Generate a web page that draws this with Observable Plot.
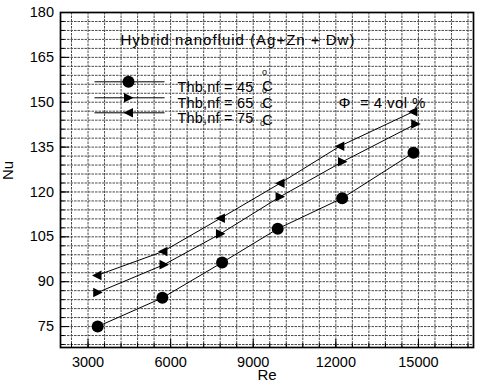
<!DOCTYPE html>
<html>
<head>
<meta charset="utf-8">
<script src="https://cdn.jsdelivr.net/npm/d3@7"></script>
<script src="https://cdn.jsdelivr.net/npm/@observablehq/plot@0.6"></script>
<style>
  html, body { margin: 0; padding: 0; background: #fff; }
  #chart { width: 480px; height: 384px; }
</style>
</head>
<body>
<div id="chart"></div>
<script>
// ---- data ----
const re45 = [3350, 5700, 7870, 9890, 12230, 14820];
const nu45 = [75.0, 84.6, 96.4, 107.7, 117.9, 133.1];
const re65 = [3350, 5760, 7810, 9975, 12240, 14900];
const nu65 = [86.4, 95.7, 106.0, 118.4, 130.1, 142.7];
const re75 = [3325, 5720, 7810, 9975, 12145, 14800];
const nu75 = [92.1, 100.1, 111.2, 122.9, 135.3, 146.8];

const seriesNames = ["Thb,nf = 45", "Thb,nf = 65", "Thb,nf = 75"];
const xTicks = [3000, 6000, 9000, 12000, 15000];
const yTicks = [75, 90, 105, 120, 135, 150, 165, 180];
const xMinor = d3.range(2400, 17000, 600);
const yMinor = d3.range(69, 180, 3);

const xDomain = [2000, 17000];
const yDomain = [68, 180];

// ---- build table ----
const rows = [];
[[re45, nu45, seriesNames[0]], [re65, nu65, seriesNames[1]], [re75, nu75, seriesNames[2]]]
  .forEach(([xs, ys, s]) => xs.forEach((x, i) => rows.push({Re: x, Nu: ys[i], s})));
const s45 = rows.filter(d => d.s === seriesNames[0]);
const s65 = rows.filter(d => d.s === seriesNames[1]);
const s75 = rows.filter(d => d.s === seriesNames[2]);

// ---- symbols ----
const triRight = {draw(c) { c.moveTo(5, 0); c.lineTo(-4.5, -4.8); c.lineTo(-4.5, 4.8); c.closePath(); }};
const triLeft  = {draw(c) { c.moveTo(-5, 0); c.lineTo(4.5, -4.8); c.lineTo(4.5, 4.8); c.closePath(); }};
const legLine  = {draw(c) { c.moveTo(-35, 0); c.lineTo(35, 0); }};

const font = "'Liberation Sans', Arial, sans-serif";
const gridStyle = {stroke: "#4a4a4a", strokeWidth: 1, strokeDasharray: "2.5,1"};

function txt(s, dx, dy, opts = {}) {
  return Plot.text([s], {frameAnchor: "top-left", dx, dy, textAnchor: "start", fontSize: 14, fill: "#000", ...opts});
}

const legendRowsY = [69.3, 85.3, 100.3];

const chart = Plot.plot({
  width: 480,
  height: 384,
  marginLeft: 60,
  marginRight: 7,
  marginTop: 12,
  marginBottom: 37,
  style: {fontFamily: font, fontSize: "14px", background: "#fff", color: "#000"},
  x: {domain: xDomain},
  y: {domain: yDomain},
  marks: [
    Plot.ruleX(xMinor, gridStyle),
    Plot.ruleY(yMinor, gridStyle),
    // axes: inward ticks
    Plot.axisX({ticks: xTicks, tickSize: -8, tickPadding: 17, tickFormat: d => String(d), label: null, fontSize: 14.5}),
    Plot.axisX({ticks: xMinor, tickSize: -4, text: null, label: null}),
    Plot.axisY({ticks: yTicks, tickSize: -9, tickPadding: 15.5, tickFormat: d => String(d), label: null, fontSize: 14.5}),
    Plot.axisY({ticks: yMinor, tickSize: -4.5, text: null, label: null}),
    Plot.frame({stroke: "#000", strokeWidth: 1.7}),
    Plot.text(["Re"], {frameAnchor: "bottom", dy: 32, fontSize: 15}),
    Plot.text(["Nu"], {frameAnchor: "left", dx: -52, rotate: -90, fontSize: 15}),
    // series
    Plot.line(s45, {x: "Re", y: "Nu", stroke: "#000", strokeWidth: 1}),
    Plot.line(s65, {x: "Re", y: "Nu", stroke: "#000", strokeWidth: 1}),
    Plot.line(s75, {x: "Re", y: "Nu", stroke: "#000", strokeWidth: 1}),
    Plot.dot(s45, {x: "Re", y: "Nu", r: 6, fill: "#000", symbol: "circle"}),
    Plot.dot(s65, {x: "Re", y: "Nu", fill: "#000", symbol: triRight}),
    Plot.dot(s75, {x: "Re", y: "Nu", fill: "#000", symbol: triLeft}),
    // annotations
    txt("Hybrid nanofluid (Ag+Zn + Dw)", 60, 21.5, {fontSize: 15}),
    txt("\u03A6\u00A0 = 4 vol %", 278, 84.7, {fontSize: 15}),
    // legend
    ...legendRowsY.map(dy => Plot.dot([0], {frameAnchor: "top-left", dx: 69, dy, symbol: legLine, stroke: "#000", fill: "none", strokeWidth: 1})),
    Plot.dot([0], {frameAnchor: "top-left", dx: 68, dy: legendRowsY[0], r: 6, fill: "#000", symbol: "circle"}),
    Plot.dot([0], {frameAnchor: "top-left", dx: 68, dy: legendRowsY[1], fill: "#000", symbol: triRight}),
    Plot.dot([0], {frameAnchor: "top-left", dx: 68, dy: legendRowsY[2], fill: "#000", symbol: triLeft}),
    ...seriesNames.map((s, i) => txt(s, 117, legendRowsY[i], {fontSize: 14.5})),
    ...legendRowsY.map((dy, i) => txt("C", 207, [68.3, 85, 102][i], {textAnchor: "middle", fontSize: 14.5})),
    txt("o", 204, 56, {textAnchor: "middle", fontSize: 9}),
    txt("o", 204, 74.5, {textAnchor: "middle", fontSize: 9}),
    txt("o", 202, 89, {textAnchor: "middle", fontSize: 9}),
    txt("o", 202, 107.5, {textAnchor: "middle", fontSize: 9})
  ]
});
// letter spacing tweaks for the wider annotation text of the reference
chart.querySelectorAll("text").forEach(t => {
  const s = t.textContent;
  if (s.startsWith("Hybrid")) t.style.letterSpacing = "1px";
  else if (s.startsWith("\u03A6")) t.style.letterSpacing = "0.4px";
  else if (s.startsWith("Thb")) t.style.letterSpacing = "0.2px";
});
document.getElementById("chart").appendChild(chart);
</script>
</body>
</html>
